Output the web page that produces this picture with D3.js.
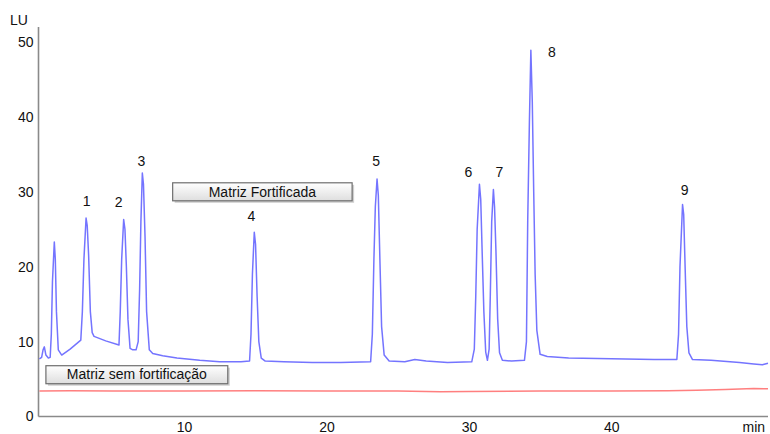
<!DOCTYPE html>
<html>
<head>
<meta charset="utf-8">
<script src="https://cdn.jsdelivr.net/npm/d3@7"></script>
<style>
  html, body { margin: 0; padding: 0; background: #fff; }
  svg { display: block; font-family: "Liberation Sans", Arial, sans-serif; }
</style>
</head>
<body>
<svg id="chart" width="770" height="434"></svg>
<script>
// Fluorescence chromatogram: retention time (min) vs. signal (LU)

// Fortified matrix trace: [time (min), signal (LU)]
const fortifiedTrace = [
  [-0.16, 7.7], [0.0, 7.9], [0.1, 8.9], [0.19, 9.3], [0.3, 8.2], [0.47, 7.8], [0.6, 7.9],
  [0.68, 11], [0.76, 18], [0.89, 23.3], [0.96, 21], [1.04, 14], [1.17, 8.9], [1.41, 8.2],
  [2.0, 9.0], [2.75, 10.2], [2.86, 14], [2.97, 21], [3.12, 26.5], [3.2, 25.5], [3.3, 21.5],
  [3.42, 14], [3.55, 11.2], [3.68, 10.7], [4.5, 10.1], [5.43, 9.55],
  [5.52, 14], [5.62, 21], [5.76, 26.3], [5.85, 25], [5.95, 20], [6.06, 13], [6.21, 9.1],
  [6.4, 8.9], [6.63, 8.9], [6.78, 10], [6.88, 17], [6.97, 26], [7.07, 32.5], [7.15, 31],
  [7.26, 24], [7.37, 14], [7.56, 8.9], [7.8, 8.4], [8.5, 8.1], [9.5, 7.8], [11.1, 7.5],
  [12.5, 7.3], [14.0, 7.3], [14.6, 7.4],
  [14.7, 11], [14.8, 19], [14.93, 24.6], [15.02, 23], [15.13, 16], [15.25, 10], [15.42, 7.8],
  [15.7, 7.4], [17.0, 7.3], [19.0, 7.2], [21.0, 7.2], [23.1, 7.3],
  [23.22, 11], [23.33, 21], [23.43, 28], [23.55, 31.7], [23.64, 29.5], [23.75, 21], [23.87, 12],
  [24.05, 8.2], [24.4, 7.4], [25.5, 7.3], [26.2, 7.6], [27.0, 7.4], [28.5, 7.2], [30.2, 7.3],
  [30.38, 9], [30.48, 16], [30.58, 25], [30.74, 31.0], [30.83, 29], [30.93, 22], [31.05, 14],
  [31.18, 8.6], [31.3, 7.5], [31.42, 9], [31.5, 16], [31.6, 26], [31.72, 30.3], [31.8, 28],
  [31.9, 22], [32.02, 13], [32.15, 8.5], [32.35, 7.5], [33.0, 7.4], [33.9, 7.5],
  [34.04, 10], [34.13, 26.2], [34.25, 39.6], [34.35, 48.9], [34.45, 42], [34.55, 30],
  [34.65, 19], [34.77, 11.5], [35.0, 8.3], [35.5, 8.0], [37.0, 7.8], [40.0, 7.7], [43.0, 7.6],
  [44.6, 7.6], [44.72, 11], [44.82, 20], [45.0, 28.3], [45.08, 27], [45.18, 20], [45.3, 12],
  [45.45, 8.5], [45.7, 7.6], [47.0, 7.5], [49.0, 7.2], [50.0, 7.0], [50.6, 6.9], [51.0, 7.1]
];

// Unfortified matrix trace
const blankTrace = [
  [-0.16, 3.4], [2, 3.45], [5, 3.4], [10, 3.4], [15, 3.45], [20, 3.4], [25, 3.4],
  [28, 3.3], [30, 3.35], [35, 3.4], [40, 3.4], [44, 3.45], [46, 3.5], [48, 3.6],
  [50, 3.75], [51, 3.7]
];

// Numbered peaks
const peakNames = ["1", "2", "3", "4", "5", "6", "7", "8", "9"];
const peakTimes = [3.12, 5.76, 7.07, 14.93, 23.55, 30.74, 31.72, 34.35, 45.0];
const peakHeights = [26.5, 26.3, 32.5, 24.6, 31.7, 31.0, 30.3, 48.9, 28.3];

// Axis ticks
const xTicks = [10, 20, 30, 40];
const yTicks = [0, 10, 20, 30, 40, 50];

// Trace legends
const legendNames = ["Matriz Fortificada", "Matriz sem fortificação"];

const svg = d3.select("#chart");
const plot = { left: 38.5, right: 768, top: 27, bottom: 416.5 };

const x = d3.scaleLinear().domain([-0.22, 51.0]).range([plot.left, plot.right]);
const y = d3.scaleLinear().domain([0, 52]).range([plot.bottom, plot.top]);

// gradient for the legend boxes
const defs = svg.append("defs");
const grad = defs.append("linearGradient").attr("id", "boxGrad")
  .attr("x1", 0).attr("y1", 0).attr("x2", 0).attr("y2", 1);
grad.append("stop").attr("offset", "0%").attr("stop-color", "#ffffff");
grad.append("stop").attr("offset", "100%").attr("stop-color", "#dedede");

// axes (plain lines, no tick marks)
const xAxis = d3.axisBottom(x).tickValues(xTicks).tickSize(0).tickPadding(6).tickFormat(d3.format("d"));
const yAxis = d3.axisLeft(y).tickValues(yTicks).tickSize(0).tickPadding(6).tickFormat(d3.format("d"));

const gx = svg.append("g").attr("transform", `translate(0,${plot.bottom})`).call(xAxis);
gx.select(".domain").attr("d", `M${plot.left},0H${plot.right}`);
const gy = svg.append("g").attr("transform", `translate(${plot.left},0)`).call(yAxis);
gy.select(".domain").attr("d", `M0,${plot.top}V${plot.bottom}`);

[gx, gy].forEach(g => {
  g.select(".domain").attr("stroke", "#8a8a8a").attr("stroke-width", 1.6);
  g.selectAll(".tick text").attr("font-size", 14).attr("fill", "#111")
    .attr("font-family", "'Liberation Sans', Arial, sans-serif");
});
gx.selectAll(".tick text").attr("y", 6);
gy.selectAll(".tick text").attr("x", -5);

svg.append("text").attr("x", 10).attr("y", 25).attr("font-size", 14).attr("fill", "#111").text("LU");
svg.append("text").attr("x", x(50)).attr("y", 431.5).attr("text-anchor", "middle")
  .attr("font-size", 14).attr("fill", "#111").text("min");

// traces
const line = d3.line().x(d => x(d[0])).y(d => y(d[1]));

svg.append("path").datum(blankTrace)
  .attr("d", line).attr("fill", "none")
  .attr("stroke", "#ff7f7f").attr("stroke-width", 1.5).attr("stroke-linejoin", "round");

svg.append("path").datum(fortifiedTrace)
  .attr("d", line).attr("fill", "none")
  .attr("stroke", "#7474ff").attr("stroke-width", 1.5).attr("stroke-linejoin", "round");

// peak numbers, nudged from each apex
const labelNudge = [[0.5, -16], [-5, -16], [-1, -11], [-3, -15], [-1, -17], [-11, -11], [6, -16], [21, 3], [2, -13]];
peakNames.forEach((name, i) => {
  svg.append("text")
    .attr("x", x(peakTimes[i]) + labelNudge[i][0])
    .attr("y", y(peakHeights[i]) + labelNudge[i][1])
    .attr("text-anchor", "middle").attr("dominant-baseline", "middle")
    .attr("font-size", 14).attr("fill", "#111").text(name);
});

// legend boxes placed in data space: [start time, top value, end time]
const legendAnchors = [[9.2, 31.2, 21.8], [0.3, 6.78, 13.07]];
legendNames.forEach((name, i) => {
  const [t0, v0, t1] = legendAnchors[i];
  const bx = x(t0), by = y(v0), bw = x(t1) - x(t0), bh = 18;
  const g = svg.append("g");
  g.append("rect").attr("x", bx + 2).attr("y", by + 2).attr("width", bw).attr("height", bh)
    .attr("fill", "#cfcfcf");
  g.append("rect").attr("x", bx).attr("y", by).attr("width", bw).attr("height", bh)
    .attr("fill", "url(#boxGrad)").attr("stroke", "#6e6e6e").attr("stroke-width", 1.2);
  g.append("text").attr("x", bx + bw / 2).attr("y", by + bh / 2 + 1)
    .attr("text-anchor", "middle").attr("dominant-baseline", "middle")
    .attr("font-size", 14).attr("fill", "#111").text(name);
});
</script>
</body>
</html>
